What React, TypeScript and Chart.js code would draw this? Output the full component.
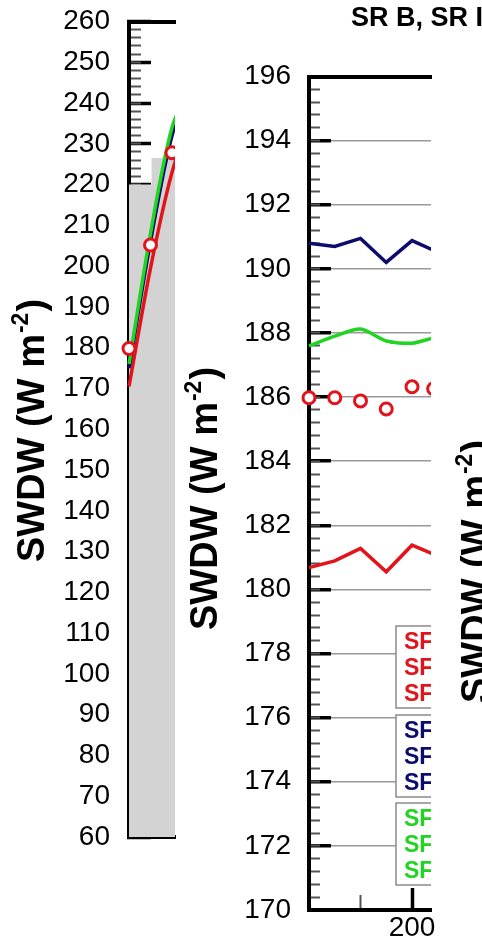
import { useEffect, useRef } from "react";
import { Chart, registerables } from "chart.js";

Chart.register(...registerables);

const W = 482;
const H = 943;
const FONT = '"Liberation Sans", Arial, Helvetica, sans-serif';

const RED = "#e3121b";
const NAVY = "#0c0c6c";
const GREEN = "#22d422";
const GREY = "#d3d3d3";

// ---------- left panel (monthly) ----------
const leftMonths = [1, 2, 3, 4];
const leftObserved = [179.8, 205.2, 227.8, 246.0];
const leftRedModel = [170.5, 199.5, 223.0, 238.0];
const leftNavyModel = [175.0, 206.0, 232.0, 245.0];
const leftGreenModel = [176.0, 208.0, 234.0, 246.0];
const leftBarEdges = [1, 2.05, 4];
const leftBarValues = [220, 226.5, 226.5];
const leftXMinorTicks = [2];
const leftYRange = [60, 260];
const leftYMajorStep = 10;
const leftYMinorStep = 2;

// ---------- middle panel ----------
const midDays = [100, 125, 150, 175, 200, 221];
const midObserved = [185.98, 185.98, 185.88, 185.63, 186.32, 186.26];
const midRedModel = [180.68, 180.89, 181.28, 180.55, 181.38, 181.1];
const midNavyModel = [190.8, 190.7, 190.95, 190.2, 190.88, 190.58];
const midGreenModel = [187.6, 187.9, 188.12, 187.75, 187.68, 187.85];
const midXMajorTicks = [200];
const midXMinorTicks = [150];
const midYRange = [170, 196];
const midYMajorStep = 2;
const midYMinorStep = 0.4;

// ---------- texts ----------
const panelTitle = "SR B, SR I";
const yTitleMain = "SWDW (W m";
const yTitleSup = "-2";
const yTitleEnd = ")";
const legendRedLabels = ["SF", "SF", "SF"];
const legendNavyLabels = ["SF", "SF", "SF"];
const legendGreenLabels = ["SF", "SF", "SF"];

// ---------- layout ----------
const LEFT_AREA = { left: 129, top: 21.5, right: 175, bottom: 837 };
const LEFT_PX_PER_MONTH = 21.5;
const MID_AREA = { left: 309, top: 76.5, right: 431, bottom: 910 };
const MID_PX_PER_DAY = 1.03;
const TITLE_SIZE = 38;
const TICK_FONT = { family: FONT, size: 28 };
const LINE_W = 3.5;

const pts = (xs: number[], ys: number[]) => xs.map((x, i) => ({ x, y: ys[i] }));
const clipRight = { left: false, top: false, right: 0, bottom: false };

function drawYTitle(ctx: CanvasRenderingContext2D, baselineX: number, startY: number) {
  ctx.save();
  ctx.translate(baselineX, startY);
  ctx.rotate(-Math.PI / 2);
  ctx.fillStyle = "#000";
  ctx.textAlign = "left";
  ctx.textBaseline = "alphabetic";
  ctx.font = `bold ${TITLE_SIZE}px ${FONT}`;
  ctx.fillText(yTitleMain, 0, 0);
  let x = ctx.measureText(yTitleMain).width + 1;
  const supSize = Math.round(TITLE_SIZE * 0.6);
  ctx.font = `bold ${supSize}px ${FONT}`;
  ctx.fillText(yTitleSup, x, -TITLE_SIZE * 0.42);
  x += ctx.measureText(yTitleSup).width + 1;
  ctx.font = `bold ${TITLE_SIZE}px ${FONT}`;
  ctx.fillText(yTitleEnd, x, 0);
  ctx.restore();
}

const noPad = (s: any) => {
  s.paddingTop = 0;
  s.paddingBottom = 0;
  s.paddingLeft = 0;
  s.paddingRight = 0;
};
const fixWidth = (w: number) => (s: any) => {
  s.width = w;
  noPad(s);
};
const fixHeight = (h: number) => (s: any) => {
  s.height = h;
  noPad(s);
};
const setTicks = (vals: number[]) => (s: any) => {
  s.ticks = vals.map((v) => ({ value: v }));
};

const obsStyle = {
  showLine: false,
  pointRadius: 6,
  pointBorderWidth: 3,
  pointBorderColor: RED,
  pointBackgroundColor: "#fff",
  borderColor: RED,
  clip: clipRight,
};
const lineStyle = (color: string, tension: number) => ({
  borderColor: color,
  borderWidth: LINE_W,
  pointRadius: 0,
  tension,
  fill: false,
  clip: clipRight,
});

function leftConfig(): any {
  const xMax = leftMonths[0] + (LEFT_AREA.right - LEFT_AREA.left) / LEFT_PX_PER_MONTH;
  const titlePlugin = {
    id: "leftTitle",
    afterDraw(chart: any) {
      drawYTitle(chart.ctx, 43.5, 562);
    },
  };
  return {
    type: "line",
    data: {
      datasets: [
        { label: "obs", data: pts(leftMonths, leftObserved), ...obsStyle, order: 0 },
        { label: "green", data: pts(leftMonths, leftGreenModel), ...lineStyle(GREEN, 0.3), order: 1 },
        { label: "navy", data: pts(leftMonths, leftNavyModel), ...lineStyle(NAVY, 0.3), order: 2 },
        { label: "red", data: pts(leftMonths, leftRedModel), ...lineStyle(RED, 0.3), order: 3 },
        {
          label: "bars",
          data: pts(leftBarEdges, leftBarValues),
          stepped: "before",
          borderWidth: 0,
          borderColor: "rgba(0,0,0,0)",
          backgroundColor: GREY,
          pointRadius: 0,
          fill: "start",
          clip: { left: 0, top: false, right: 0, bottom: 0 },
          order: 10,
        },
      ],
    },
    options: {
      responsive: false,
      animation: false,
      events: [],
      layout: {
        padding: {
          left: 0,
          top: LEFT_AREA.top,
          right: W - LEFT_AREA.right,
          bottom: H - LEFT_AREA.bottom,
        },
      },
      plugins: { legend: { display: false }, tooltip: { enabled: false } },
      scales: {
        x: {
          type: "linear",
          position: "bottom",
          min: leftMonths[0],
          max: xMax,
          afterFit: fixHeight(0),
          afterBuildTicks: setTicks(leftXMinorTicks),
          ticks: { display: false },
          grid: { drawOnChartArea: false, tickLength: -13, tickWidth: 1.5, tickColor: "#444" },
          border: { display: true, color: "#000", width: 4 },
        },
        xTop: {
          type: "linear",
          axis: "x",
          position: "top",
          min: leftMonths[0],
          max: xMax,
          afterFit: fixHeight(0),
          ticks: { display: false },
          grid: { display: false, drawTicks: false },
          border: { display: true, color: "#000", width: 4 },
        },
        y: {
          type: "linear",
          position: "left",
          weight: 0,
          min: leftYRange[0],
          max: leftYRange[1],
          afterFit: fixWidth(LEFT_AREA.left),
          ticks: { stepSize: leftYMajorStep, padding: 41, color: "#000", font: TICK_FONT },
          grid: { drawOnChartArea: false, tickLength: -22, tickWidth: 3.5, tickColor: "#000" },
          border: { display: true, color: "#000", width: 4 },
        },
        yMinor: {
          type: "linear",
          axis: "y",
          position: "left",
          weight: -1,
          min: leftYRange[0],
          max: leftYRange[1],
          afterFit: fixWidth(0),
          ticks: { display: false, stepSize: leftYMinorStep },
          grid: { drawOnChartArea: false, tickLength: -12, tickWidth: 2, tickColor: "#555" },
          border: { display: false },
        },
      },
    },
    plugins: [titlePlugin],
  };
}

function midConfig(): any {
  const xMax = midDays[0] + (MID_AREA.right - MID_AREA.left) / MID_PX_PER_DAY;
  const legendGroups = [
    { labels: legendRedLabels, color: RED, top: 626 },
    { labels: legendNavyLabels, color: NAVY, top: 715 },
    { labels: legendGreenLabels, color: GREEN, top: 803 },
  ];
  const legendPlugin = {
    id: "midLegend",
    afterDatasetsDraw(chart: any) {
      const ctx = chart.ctx as CanvasRenderingContext2D;
      const area = chart.chartArea;
      ctx.save();
      ctx.beginPath();
      ctx.rect(0, 0, area.right, H);
      ctx.clip();
      for (const g of legendGroups) {
        ctx.fillStyle = "#fff";
        ctx.fillRect(396, g.top, 200, 82);
        ctx.strokeStyle = "#8a8a8a";
        ctx.lineWidth = 1.5;
        ctx.strokeRect(396, g.top, 200, 82);
        ctx.fillStyle = g.color;
        ctx.font = `bold 23px ${FONT}`;
        ctx.textAlign = "left";
        ctx.textBaseline = "alphabetic";
        g.labels.forEach((t, i) => ctx.fillText(t, 404, g.top + 23 + i * 26));
      }
      ctx.restore();
    },
    afterDraw(chart: any) {
      const ctx = chart.ctx as CanvasRenderingContext2D;
      drawYTitle(ctx, 217, 630);
      drawYTitle(ctx, 488, 703);
      ctx.save();
      ctx.fillStyle = "#000";
      ctx.font = `bold 27px ${FONT}`;
      ctx.textAlign = "left";
      ctx.textBaseline = "alphabetic";
      ctx.fillText(panelTitle, 351, 26);
      ctx.restore();
    },
  };
  return {
    type: "line",
    data: {
      datasets: [
        { label: "obs", data: pts(midDays, midObserved), ...obsStyle, order: 0 },
        { label: "navy", data: pts(midDays, midNavyModel), ...lineStyle(NAVY, 0), order: 1 },
        { label: "green", data: pts(midDays, midGreenModel), ...lineStyle(GREEN, 0.25), order: 2 },
        { label: "red", data: pts(midDays, midRedModel), ...lineStyle(RED, 0), order: 3 },
      ],
    },
    options: {
      responsive: false,
      animation: false,
      events: [],
      layout: {
        padding: {
          left: 0,
          top: MID_AREA.top,
          right: W - MID_AREA.right,
          bottom: 0,
        },
      },
      plugins: { legend: { display: false }, tooltip: { enabled: false } },
      scales: {
        x: {
          type: "linear",
          position: "bottom",
          weight: 0,
          min: midDays[0],
          max: xMax,
          afterFit: fixHeight(H - MID_AREA.bottom),
          afterBuildTicks: setTicks(midXMajorTicks),
          ticks: { padding: 23, color: "#000", font: TICK_FONT, maxRotation: 0 },
          grid: { drawOnChartArea: false, tickLength: -22, tickWidth: 3.5, tickColor: "#000" },
          border: { display: true, color: "#000", width: 4 },
        },
        xMinor: {
          type: "linear",
          axis: "x",
          position: "bottom",
          weight: -1,
          min: midDays[0],
          max: xMax,
          afterFit: fixHeight(0),
          afterBuildTicks: setTicks(midXMinorTicks),
          ticks: { display: false },
          grid: { drawOnChartArea: false, tickLength: -15, tickWidth: 2, tickColor: "#555" },
          border: { display: false },
        },
        xTop: {
          type: "linear",
          axis: "x",
          position: "top",
          min: midDays[0],
          max: xMax,
          afterFit: fixHeight(0),
          ticks: { display: false },
          grid: { display: false, drawTicks: false },
          border: { display: true, color: "#000", width: 4 },
        },
        y: {
          type: "linear",
          position: "left",
          weight: 0,
          min: midYRange[0],
          max: midYRange[1],
          afterFit: fixWidth(MID_AREA.left),
          ticks: { stepSize: midYMajorStep, padding: 40, color: "#000", font: TICK_FONT },
          grid: {
            drawOnChartArea: true,
            color: "#999",
            lineWidth: 1.5,
            tickLength: -22,
            tickWidth: 3.5,
            tickColor: "#000",
          },
          border: { display: true, color: "#000", width: 4 },
        },
        yMinor: {
          type: "linear",
          axis: "y",
          position: "left",
          weight: -1,
          min: midYRange[0],
          max: midYRange[1],
          afterFit: fixWidth(0),
          ticks: { display: false, stepSize: midYMinorStep },
          grid: { drawOnChartArea: false, tickLength: -11, tickWidth: 2, tickColor: "#555" },
          border: { display: false },
        },
      },
    },
    plugins: [legendPlugin],
  };
}

export default function App() {
  const leftRef = useRef<HTMLCanvasElement>(null);
  const midRef = useRef<HTMLCanvasElement>(null);

  useEffect(() => {
    const left = new Chart(leftRef.current as HTMLCanvasElement, leftConfig());
    const mid = new Chart(midRef.current as HTMLCanvasElement, midConfig());
    return () => {
      left.destroy();
      mid.destroy();
    };
  }, []);

  return (
    <div
      style={{
        position: "absolute",
        left: 0,
        top: 0,
        width: W,
        height: H,
        background: "#fff",
        overflow: "hidden",
      }}
    >
      <canvas ref={leftRef} width={W} height={H} style={{ position: "absolute", left: 0, top: 0 }} />
      <canvas ref={midRef} width={W} height={H} style={{ position: "absolute", left: 0, top: 0 }} />
    </div>
  );
}
